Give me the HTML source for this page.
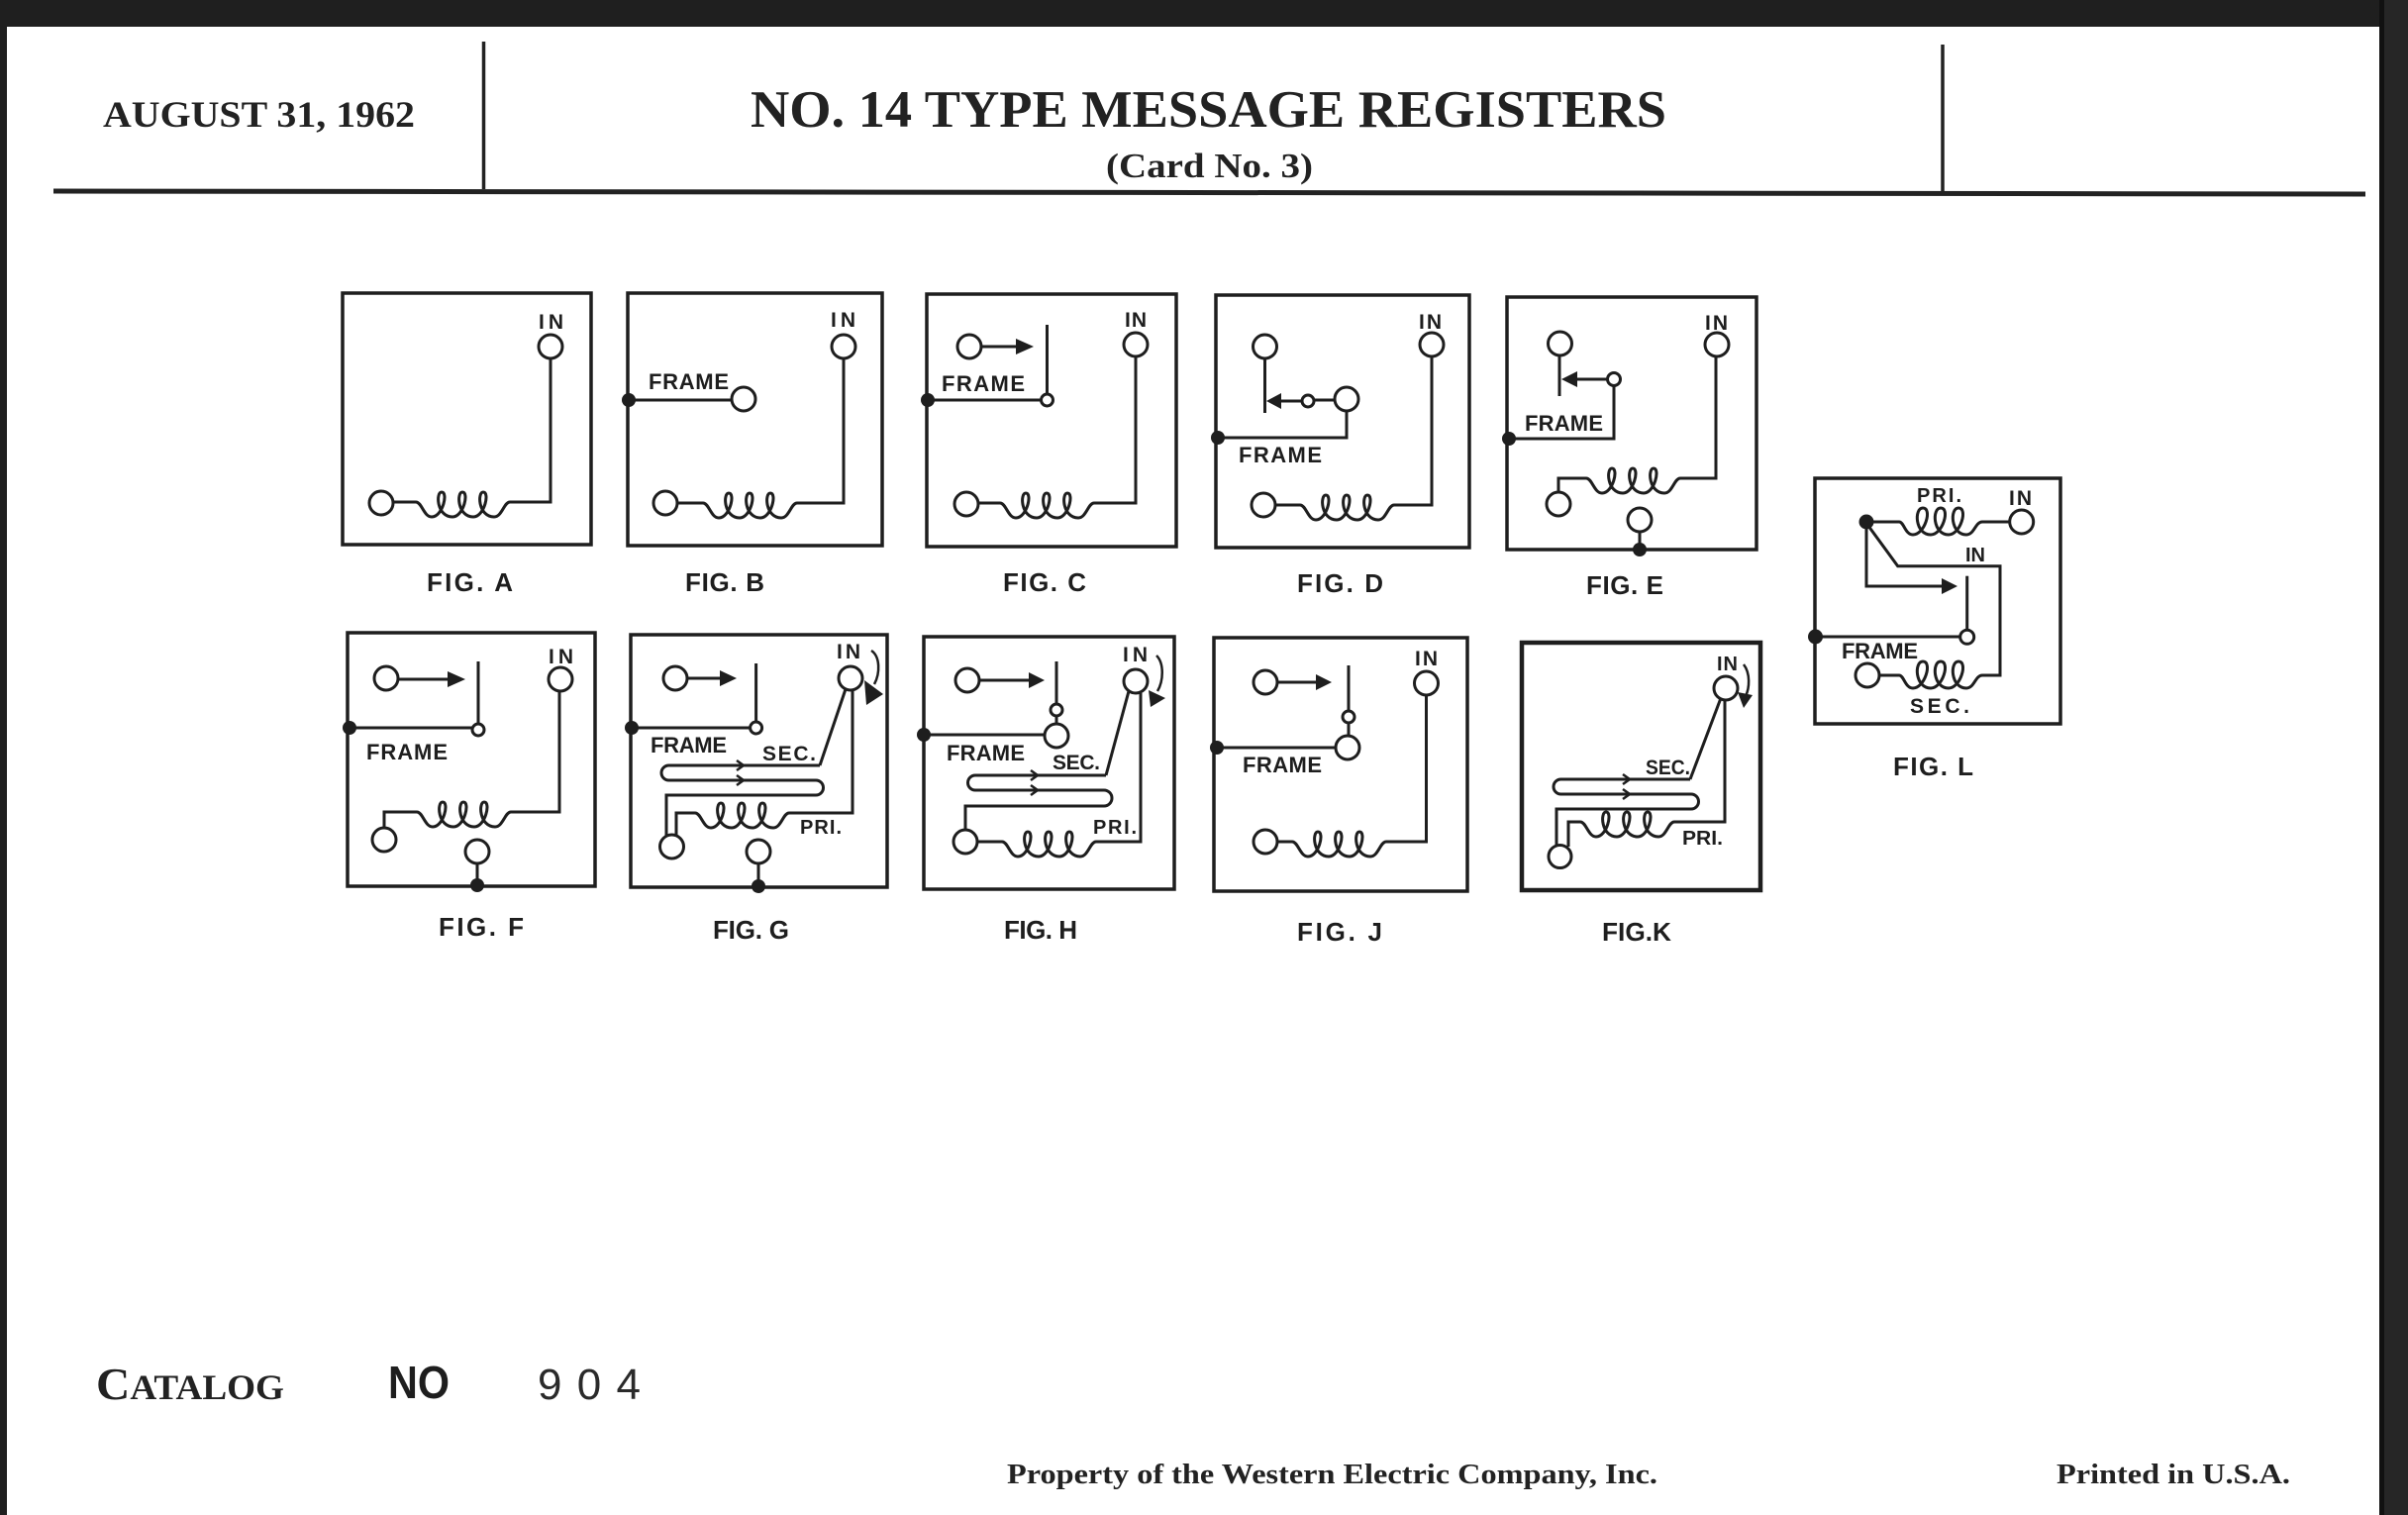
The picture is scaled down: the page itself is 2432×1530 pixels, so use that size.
<!DOCTYPE html>
<html>
<head>
<meta charset="utf-8">
<style>
html,body{margin:0;padding:0;background:#fff;}
svg{display:block;}
.s{font-family:"Liberation Sans",Arial,sans-serif;font-weight:bold;fill:#1e1e1e;}
.r{font-family:"Liberation Serif","Times New Roman",serif;font-weight:bold;fill:#222;}
</style>
</head>
<body>
<svg width="2432" height="1530" viewBox="0 0 2432 1530" xmlns="http://www.w3.org/2000/svg">
<defs>
<path id="c" d="M0,0 C6,0 8,15 16,15 C27,15 33,-10 26,-10 C20,-10 21,15 37,15 C48,15 54,-10 47,-10 C41,-10 42,15 58,15 C69,15 75,-10 68,-10 C62,-10 63,15 79,15 C87,15 89,0 95,0"/>
<path id="cl" d="M0,0 C5,0 6,13 14,13 C26,13 34,-14 24,-14 C15,-14 16,13 32,13 C44,13 52,-14 42,-14 C33,-14 34,13 50,13 C62,13 70,-14 60,-14 C51,-14 52,13 68,13 C76,13 77,0 84,0"/>
</defs>

<!-- page background & edges -->
<rect x="0" y="0" width="2432" height="1530" fill="#ffffff"/>
<rect x="0" y="0" width="2432" height="27" fill="#1f1f1f"/>
<rect x="0" y="0" width="7" height="1530" fill="#1f1f1f"/>
<rect x="2403" y="0" width="29" height="1530" fill="#262626"/>
<rect x="2403" y="0" width="5" height="1530" fill="#111"/>

<!-- header -->
<g stroke="#222" fill="none">
<line x1="488.5" y1="42" x2="488.5" y2="191" stroke-width="3.5"/>
<line x1="1962" y1="45" x2="1962" y2="195" stroke-width="3.5"/>
<line x1="54" y1="193" x2="2389" y2="196" stroke-width="5"/>
</g>
<text class="r" x="104" y="128" font-size="37" textLength="315" lengthAdjust="spacingAndGlyphs">AUGUST 31, 1962</text>
<text class="r" x="758" y="128" font-size="53" textLength="925" lengthAdjust="spacingAndGlyphs">NO. 14 TYPE MESSAGE REGISTERS</text>
<text class="r" x="1117" y="179" font-size="35" textLength="209" lengthAdjust="spacingAndGlyphs">(Card No. 3)</text>

<!-- diagrams -->
<g stroke="#1e1e1e" stroke-width="3" fill="none" stroke-linejoin="miter">

<!-- FIG A -->
<rect x="346" y="296" width="251" height="254" stroke-width="3.5"/>
<polyline points="556,362 556,507 515,507"/>
<use href="#c" x="420" y="507"/>
<line x1="397" y1="507" x2="420" y2="507"/>
<circle cx="556" cy="350" r="12" fill="#fff"/>
<circle cx="385" cy="508" r="12" fill="#fff"/>

<!-- FIG B -->
<rect x="634" y="296" width="257" height="255" stroke-width="3.5"/>
<line x1="635" y1="404" x2="739" y2="404"/>
<circle cx="751" cy="403" r="12" fill="#fff"/>
<polyline points="852,362 852,508 805,508"/>
<use href="#c" x="710" y="508"/>
<line x1="684" y1="508" x2="710" y2="508"/>
<circle cx="852" cy="350" r="12" fill="#fff"/>
<circle cx="672" cy="508" r="12" fill="#fff"/>

<!-- FIG C -->
<rect x="936" y="297" width="252" height="255" stroke-width="3.5"/>
<line x1="937" y1="404" x2="1051" y2="404"/>
<line x1="1057.5" y1="328" x2="1057.5" y2="398"/>
<circle cx="1057.5" cy="404" r="6" fill="#fff"/>
<line x1="991" y1="350" x2="1030" y2="350"/>
<circle cx="979" cy="350" r="12" fill="#fff"/>
<polyline points="1147,360 1147,508 1105,508"/>
<use href="#c" x="1010" y="508"/>
<line x1="988" y1="508" x2="1010" y2="508"/>
<circle cx="1147" cy="348" r="12" fill="#fff"/>
<circle cx="976" cy="509" r="12" fill="#fff"/>

<!-- FIG D -->
<rect x="1228" y="298" width="256" height="255" stroke-width="3.5"/>
<polyline points="1446,360 1446,510 1408,510"/>
<use href="#c" x="1313" y="510"/>
<line x1="1288" y1="510" x2="1313" y2="510"/>
<circle cx="1446" cy="348" r="12" fill="#fff"/>
<circle cx="1276" cy="510" r="12" fill="#fff"/>
<line x1="1277.5" y1="362" x2="1277.5" y2="417"/>
<circle cx="1277.5" cy="350" r="12" fill="#fff"/>
<line x1="1292" y1="405" x2="1315" y2="405"/>
<line x1="1327" y1="404" x2="1348" y2="404"/>
<circle cx="1321" cy="405" r="6" fill="#fff"/>
<polyline points="1360,415 1360,442 1230,442"/>
<circle cx="1360" cy="403" r="12" fill="#fff"/>

<!-- FIG E -->
<rect x="1522" y="300" width="252" height="255" stroke-width="3.5"/>
<polyline points="1733,360 1733,483 1697,483"/>
<use href="#c" x="1602" y="483"/>
<polyline points="1602,483 1574,483 1574,497"/>
<circle cx="1734" cy="348" r="12" fill="#fff"/>
<circle cx="1574" cy="509" r="12" fill="#fff"/>
<line x1="1656" y1="537" x2="1656" y2="555"/>
<circle cx="1656" cy="525" r="12" fill="#fff"/>
<line x1="1575" y1="359" x2="1575" y2="400"/>
<circle cx="1575.5" cy="347" r="12" fill="#fff"/>
<line x1="1592" y1="383" x2="1624" y2="383"/>
<polyline points="1630,389.5 1630,443 1524,443"/>
<circle cx="1630" cy="383" r="6.5" fill="#fff"/>

<!-- FIG F -->
<rect x="351" y="639" width="250" height="256" stroke-width="3.5"/>
<polyline points="565,698 565,820 516,820"/>
<use href="#c" x="421" y="820"/>
<polyline points="421,820 388,820 388,836"/>
<circle cx="566" cy="686" r="12" fill="#fff"/>
<circle cx="388" cy="848" r="12" fill="#fff"/>
<line x1="482" y1="872" x2="482" y2="894"/>
<circle cx="482" cy="860" r="12" fill="#fff"/>
<line x1="402" y1="686" x2="455" y2="686"/>
<circle cx="390" cy="685" r="12" fill="#fff"/>
<line x1="483" y1="668" x2="483" y2="731"/>
<line x1="353" y1="735" x2="477" y2="735"/>
<circle cx="483" cy="737" r="6" fill="#fff"/>

<!-- FIG G -->
<rect x="637" y="641" width="259" height="255" stroke-width="3.5"/>
<line x1="854" y1="696" x2="828" y2="773"/>
<path d="M828,773 H675.5 A7.5,7.5 0 0 0 675.5,788 H824 A7.5,7.5 0 0 1 824,803 H673 V846"/>
<polyline points="744,768 751,773 744,778" stroke-width="2.5"/>
<polyline points="744,783 751,788 744,793" stroke-width="2.5"/>
<polyline points="861,697 861,821 797,821"/>
<use href="#c" x="702" y="821"/>
<polyline points="702,821 683,821 683,846"/>
<circle cx="859" cy="685" r="12" fill="#fff"/>
<circle cx="678.5" cy="855" r="12" fill="#fff"/>
<path d="M880,657 C889,663 889,680 883,691" stroke-width="2.5"/>
<line x1="694" y1="685" x2="730" y2="685"/>
<circle cx="682" cy="685" r="12" fill="#fff"/>
<line x1="763.6" y1="670" x2="763.6" y2="729"/>
<line x1="638" y1="735" x2="757.6" y2="735"/>
<circle cx="763.6" cy="735" r="6" fill="#fff"/>
<line x1="766" y1="872" x2="766" y2="895"/>
<circle cx="766" cy="860" r="12" fill="#fff"/>

<!-- FIG H -->
<rect x="933" y="643" width="253" height="255" stroke-width="3.5"/>
<line x1="1140" y1="698" x2="1117" y2="783"/>
<path d="M1117,783 H985 A7.5,7.5 0 0 0 985,798 H1115 A8,8 0 0 1 1115,814 H975 V838"/>
<polyline points="1041,778 1048,783 1041,788" stroke-width="2.5"/>
<polyline points="1041,793 1048,798 1041,803" stroke-width="2.5"/>
<polyline points="1152,700 1152,850 1107,850"/>
<use href="#c" x="1012" y="850"/>
<line x1="987" y1="850" x2="1012" y2="850"/>
<circle cx="1147" cy="688" r="12" fill="#fff"/>
<circle cx="975" cy="850" r="12" fill="#fff"/>
<path d="M1168,662 C1176,670 1175,688 1169,698" stroke-width="2.5"/>
<line x1="989" y1="687" x2="1040" y2="687"/>
<circle cx="977" cy="687" r="12" fill="#fff"/>
<line x1="1067" y1="668" x2="1067" y2="711"/>
<line x1="1067" y1="723" x2="1067" y2="731"/>
<circle cx="1067" cy="717" r="6" fill="#fff"/>
<line x1="933" y1="742" x2="1055" y2="742"/>
<circle cx="1067" cy="743" r="12" fill="#fff"/>

<!-- FIG J -->
<rect x="1226" y="644" width="256" height="256" stroke-width="3.5"/>
<polyline points="1440.5,702 1440.5,850 1400,850"/>
<use href="#c" x="1305" y="850"/>
<line x1="1290" y1="850" x2="1305" y2="850"/>
<circle cx="1440.5" cy="690" r="12" fill="#fff"/>
<circle cx="1278" cy="850" r="12" fill="#fff"/>
<line x1="1290" y1="689" x2="1330" y2="689"/>
<circle cx="1278" cy="689" r="12" fill="#fff"/>
<line x1="1362" y1="672" x2="1362" y2="718"/>
<line x1="1362" y1="730" x2="1362" y2="743"/>
<circle cx="1362" cy="724" r="6" fill="#fff"/>
<line x1="1229" y1="755" x2="1349" y2="755"/>
<circle cx="1361" cy="755" r="12" fill="#fff"/>

<!-- FIG K -->
<rect x="1537" y="649" width="241" height="250" stroke-width="4.5"/>
<line x1="1738" y1="705" x2="1707" y2="787"/>
<path d="M1707,787 H1576.5 A7.5,7.5 0 0 0 1576.5,802 H1708 A7.5,7.5 0 0 1 1708,817 H1572 V855"/>
<polyline points="1639,782 1646,787 1639,792" stroke-width="2.5"/>
<polyline points="1639,797 1646,802 1639,807" stroke-width="2.5"/>
<polyline points="1742,707 1742,830 1691,830"/>
<use href="#c" x="1596" y="830"/>
<polyline points="1596,830 1584,830 1584,855"/>
<circle cx="1743" cy="695" r="12" fill="#fff"/>
<circle cx="1575.5" cy="865" r="11.5" fill="#fff"/>
<path d="M1761,671 C1768,680 1767,695 1763,703" stroke-width="2.5"/>

<!-- FIG L -->
<rect x="1833" y="483" width="248" height="248" stroke-width="3.5"/>
<line x1="1884" y1="527" x2="1918" y2="527"/>
<use href="#cl" x="1918" y="527"/>
<line x1="2002" y1="527" x2="2030" y2="527"/>
<circle cx="2041.7" cy="527" r="12" fill="#fff"/>
<polyline points="1884,527 1916.7,571.7 2020,571.7 2020,682 2002,682"/>
<use href="#cl" x="1918" y="682"/>
<line x1="1898" y1="682" x2="1918" y2="682"/>
<circle cx="1886" cy="682" r="12" fill="#fff"/>
<polyline points="1885,527 1885,592 1962,592"/>
<line x1="1986.7" y1="581.7" x2="1986.7" y2="636"/>
<line x1="1833" y1="643" x2="1980" y2="643"/>
<circle cx="1986.7" cy="643.3" r="7" fill="#fff"/>
</g>

<!-- filled dots & arrowheads -->
<g fill="#1e1e1e" stroke="none">
<circle cx="635" cy="404" r="7"/>
<circle cx="937" cy="404" r="7"/>
<polygon points="1026,342 1044,350 1026,358"/>
<circle cx="1230" cy="442" r="7"/>
<polygon points="1294,397 1279,405 1294,413"/>
<circle cx="1524" cy="443" r="7"/>
<circle cx="1656" cy="555" r="7"/>
<polygon points="1593,375 1577,383 1593,391"/>
<circle cx="353" cy="735" r="7"/>
<circle cx="482" cy="894" r="7"/>
<polygon points="452,678 470,686 452,694"/>
<circle cx="638" cy="735" r="7"/>
<circle cx="766" cy="895" r="7"/>
<polygon points="727,677 744,685 727,693"/>
<polygon points="873,687 892,701 875,712"/>
<circle cx="933" cy="742" r="7"/>
<polygon points="1039,679 1055,687 1039,695"/>
<polygon points="1160,697 1177,705 1162,714"/>
<circle cx="1229" cy="755" r="7"/>
<polygon points="1329,681 1345,689 1329,697"/>
<polygon points="1755,699 1770,702 1761,715"/>
<circle cx="1885" cy="527" r="7.5"/>
<circle cx="1833.5" cy="643" r="7.5"/>
<polygon points="1961,584 1977,592 1961,600"/>
</g>

<!-- diagram labels -->
<g class="s">
<text x="544" y="332" font-size="21" textLength="25" lengthAdjust="spacing">IN</text>
<text x="431" y="597" font-size="26" textLength="87" lengthAdjust="spacing">FIG. A</text>

<text x="655" y="393" font-size="22" textLength="81" lengthAdjust="spacing">FRAME</text>
<text x="839" y="330" font-size="21" textLength="25" lengthAdjust="spacing">IN</text>
<text x="692" y="597" font-size="26" textLength="80" lengthAdjust="spacing">FIG. B</text>

<text x="951" y="395" font-size="22" textLength="84" lengthAdjust="spacing">FRAME</text>
<text x="1136" y="330" font-size="21" textLength="22" lengthAdjust="spacing">IN</text>
<text x="1013" y="597" font-size="26" textLength="84" lengthAdjust="spacing">FIG. C</text>

<text x="1433" y="332" font-size="21" textLength="23" lengthAdjust="spacing">IN</text>
<text x="1251" y="467" font-size="22" textLength="84" lengthAdjust="spacing">FRAME</text>
<text x="1310" y="598" font-size="26" textLength="87" lengthAdjust="spacing">FIG. D</text>

<text x="1722" y="333" font-size="21" textLength="23" lengthAdjust="spacing">IN</text>
<text x="1540" y="435" font-size="22" textLength="79" lengthAdjust="spacing">FRAME</text>
<text x="1602" y="600" font-size="26" textLength="78" lengthAdjust="spacing">FIG. E</text>

<text x="554" y="670" font-size="21" textLength="25" lengthAdjust="spacing">IN</text>
<text x="370" y="767" font-size="22" textLength="82" lengthAdjust="spacing">FRAME</text>
<text x="443" y="945" font-size="26" textLength="86" lengthAdjust="spacing">FIG. F</text>

<text x="845" y="665" font-size="21" textLength="24" lengthAdjust="spacing">IN</text>
<text x="657" y="760" font-size="22" textLength="77" lengthAdjust="spacing">FRAME</text>
<text x="770" y="768" font-size="21" textLength="54" lengthAdjust="spacing">SEC.</text>
<text x="808" y="842" font-size="20" textLength="42" lengthAdjust="spacing">PRI.</text>
<text x="720" y="948" font-size="26" textLength="77" lengthAdjust="spacing">FIG. G</text>

<text x="1134" y="668" font-size="21" textLength="25" lengthAdjust="spacing">IN</text>
<text x="956" y="768" font-size="22" textLength="79" lengthAdjust="spacing">FRAME</text>
<text x="1063" y="777" font-size="21" textLength="48" lengthAdjust="spacing">SEC.</text>
<text x="1104" y="842" font-size="20" textLength="44" lengthAdjust="spacing">PRI.</text>
<text x="1014" y="948" font-size="26" textLength="74" lengthAdjust="spacing">FIG. H</text>

<text x="1429" y="672" font-size="21" textLength="23" lengthAdjust="spacing">IN</text>
<text x="1255" y="780" font-size="22" textLength="80" lengthAdjust="spacing">FRAME</text>
<text x="1310" y="950" font-size="26" textLength="86" lengthAdjust="spacing">FIG. J</text>

<text x="1734" y="677" font-size="20" textLength="21" lengthAdjust="spacing">IN</text>
<text x="1662" y="782" font-size="21" textLength="45" lengthAdjust="spacingAndGlyphs">SEC.</text>
<text x="1699" y="853" font-size="20" textLength="41" lengthAdjust="spacingAndGlyphs">PRI.</text>
<text x="1618" y="950" font-size="26" textLength="70" lengthAdjust="spacingAndGlyphs">FIG.K</text>

<text x="1936" y="507" font-size="20" textLength="45" lengthAdjust="spacing">PRI.</text>
<text x="2029" y="510" font-size="21" textLength="23" lengthAdjust="spacing">IN</text>
<text x="1985" y="567" font-size="20" textLength="20" lengthAdjust="spacing">IN</text>
<text x="1860" y="665" font-size="22" textLength="77" lengthAdjust="spacing">FRAME</text>
<text x="1929" y="720" font-size="21" textLength="60" lengthAdjust="spacing">SEC.</text>
<text x="1912" y="783" font-size="26" textLength="81" lengthAdjust="spacing">FIG. L</text>
</g>

<!-- footer -->
<text class="r" x="97" y="1413" textLength="190" lengthAdjust="spacingAndGlyphs"><tspan font-size="46">C</tspan><tspan font-size="36">ATALOG</tspan></text>
<text class="s" x="392" y="1412" font-size="46" textLength="62" lengthAdjust="spacingAndGlyphs">NO</text>
<text x="543" y="1413" font-size="44" textLength="104" lengthAdjust="spacing" style="font-family:'Liberation Sans',Arial,sans-serif;fill:#2a2a2a;">904</text>
<text class="r" x="1017" y="1498" font-size="29" textLength="657" lengthAdjust="spacingAndGlyphs">Property of the Western Electric Company, Inc.</text>
<text class="r" x="2077" y="1498" font-size="29" textLength="236" lengthAdjust="spacingAndGlyphs">Printed in U.S.A.</text>
</svg>
</body>
</html>
